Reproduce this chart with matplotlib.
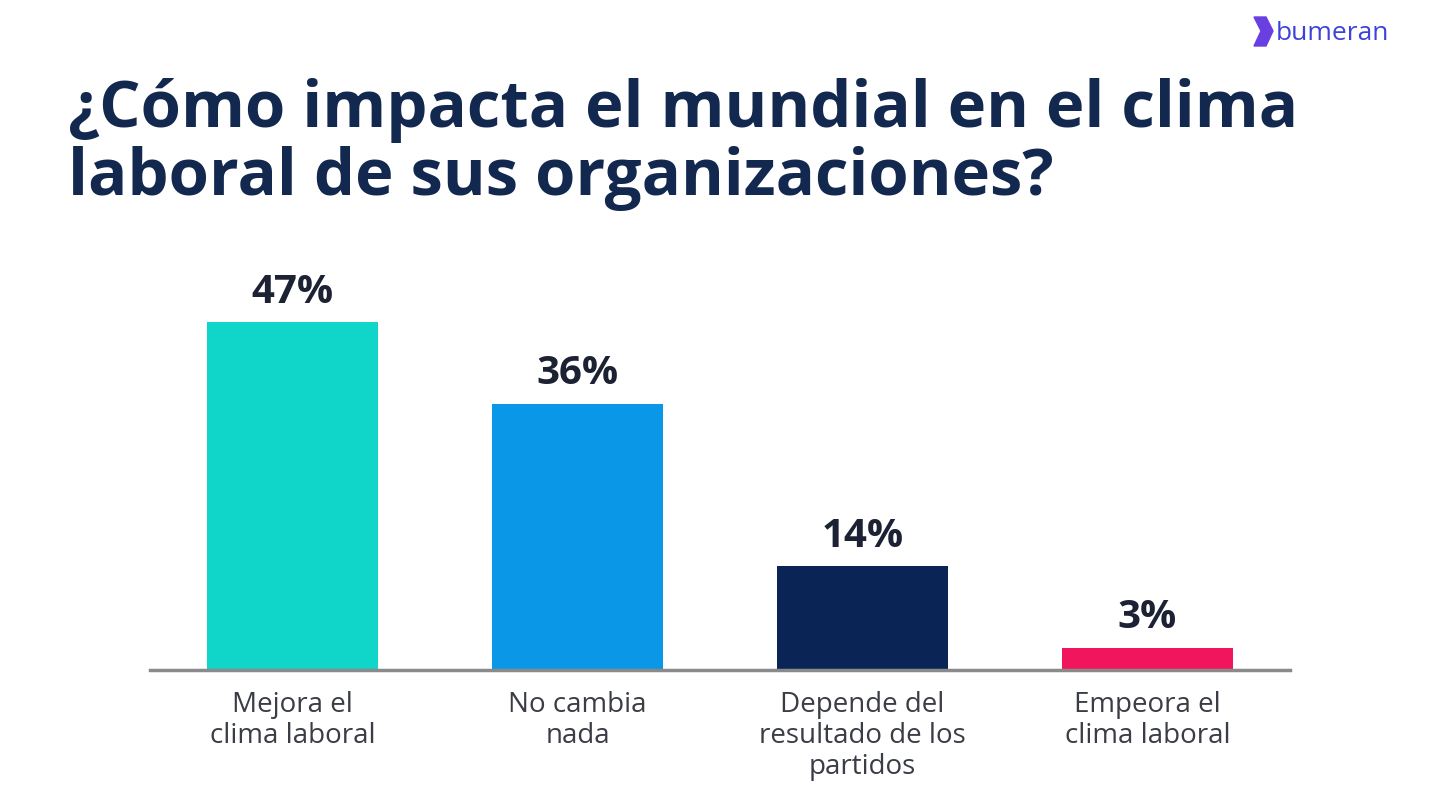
import matplotlib.pyplot as plt
import numpy as np
from matplotlib.patches import Polygon

categories = ["Mejora el\nclima laboral", "No cambia\nnada",
              "Depende del\nresultado de los\npartidos", "Empeora el\nclima laboral"]
values = [47, 36, 14, 3]
colors = ["#10D5C9", "#0A97E8", "#0B2456", "#F0155C"]

title = "¿Cómo impacta el mundial en el clima\nlaboral de sus organizaciones?"
navy = "#13284F"

plt.rcParams['font.family'] = ['Open Sans', 'DejaVu Sans']

fig = plt.figure(figsize=(14.4, 7.86), dpi=100)
ax = fig.add_axes([150/1440, (786-670)/786, 1140/1440, 370/786])

x = np.arange(len(categories))
ax.bar(x, values, width=0.6, color=colors, zorder=2)

for xi, v in zip(x, values):
    ax.text(xi, v + 1.4, f"{v}%", ha="center", va="bottom",
            fontsize=29, fontweight="bold", color="#1c2233")

ax.set_xlim(-0.5, 3.5)
ax.set_ylim(0, 50)
for s in ["top", "right", "left"]:
    ax.spines[s].set_visible(False)
ax.spines["bottom"].set_color("#8a8a8a")
ax.spines["bottom"].set_linewidth(2.5)
ax.set_yticks([])
ax.set_xticks(x)
ax.set_xticklabels(categories, fontsize=20, color="#3a3d45", linespacing=1.15, va="top")
ax.tick_params(axis="x", length=0, pad=15)

fig.text(68/1440, 1 - 78/786, title, ha="left", va="top", fontsize=47,
         fontweight="bold", color=navy, linespacing=1.07)

# logo
chev = Polygon([[1254/1440, 1-17/786], [1266/1440, 1-17/786], [1273/1440, 1-31/786],
                [1266/1440, 1-46/786], [1254/1440, 1-46/786], [1261/1440, 1-31/786]],
               closed=True, transform=fig.transFigure, color="#6a3fe0")
fig.patches.append(chev)
fig.text(1276/1440, 1-33/786, "bumeran", ha="left", va="center", fontsize=19,
         color="#3d43d8")

plt.savefig("out.png", dpi=100)
plt.close()
